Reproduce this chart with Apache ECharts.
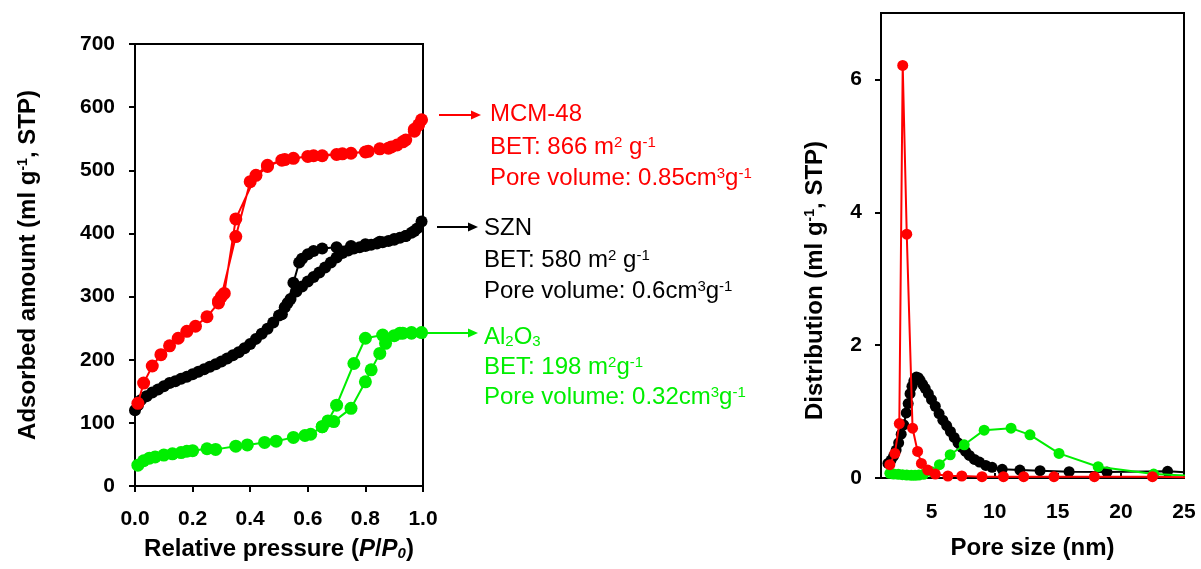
<!DOCTYPE html>
<html><head><meta charset="utf-8">
<script src="https://cdn.jsdelivr.net/npm/echarts@6/dist/echarts.min.js"></script>
<style>html,body{margin:0;padding:0;background:#fff}#c{width:1201px;height:569px}</style>
</head><body><div id="c"></div>
<script>
// ---------- DATA ----------
// N2 isotherms: [P/P0, adsorbed amount] (adsorption branch then desorption branch)
const mcmIsotherm = [[0.01,131],[0.03,163],[0.06,190],[0.09,208],[0.12,222],[0.15,234],[0.18,245],[0.21,253],[0.25,268],[0.29,290],[0.30,300],[0.35,395],[0.40,482],[0.46,506],[0.51,516],[0.55,519],[0.60,522],[0.65,523],[0.70,525],[0.75,527],[0.81,530],[0.85,534],[0.89,537],[0.91,540],[0.94,548],[0.97,562],[0.985,572],[0.995,580],
  [0.97,565],[0.93,545],[0.88,535],[0.80,529],[0.72,526],[0.62,523],[0.52,517],[0.46,508],[0.42,492],[0.35,423],[0.31,305],[0.29,293]];
const sznIsotherm = [[0.0,120],[0.01,128],[0.02,136],[0.04,142],[0.06,148],[0.08,153],[0.10,158],[0.12,163],[0.14,166],[0.16,170],[0.18,173],[0.20,177],[0.22,181],[0.24,185],[0.26,189],[0.28,193],[0.30,197],[0.32,202],[0.34,207],[0.36,212],[0.38,218],[0.40,225],[0.42,233],[0.44,241],[0.46,249],[0.48,259],[0.50,270],[0.52,283],[0.54,296],[0.56,308],[0.58,316],[0.60,324],[0.62,331],[0.64,338],[0.66,346],[0.68,354],[0.70,362],[0.72,369],[0.74,373],[0.76,376],[0.78,378],[0.80,380],[0.82,382],[0.84,384],[0.86,386],[0.88,388],[0.90,390],[0.92,393],[0.94,396],[0.96,401],[0.98,408],[0.995,419],
  [0.97,404],[0.94,396],[0.90,391],[0.85,387],[0.80,383],[0.75,380],[0.70,378],[0.65,376],[0.62,372],[0.60,367],[0.58,360],[0.57,354],[0.55,322],[0.53,290],[0.51,272]];
const al2o3Isotherm = [[0.01,33],[0.03,40],[0.05,44],[0.07,46],[0.10,49],[0.13,51],[0.16,53],[0.18,55],[0.20,56],[0.25,59],[0.28,58],[0.35,63],[0.39,65],[0.45,69],[0.49,71],[0.55,77],[0.59,80],[0.61,82],[0.65,94],[0.69,102],[0.75,123],[0.80,165],[0.82,184],[0.85,210],[0.87,226],[0.90,238],[0.93,242],[0.96,242],[0.995,243],
  [0.96,243],[0.92,242],[0.86,239],[0.80,234],[0.76,194],[0.70,128],[0.67,103],[0.65,94]];
// Pore size distributions: [pore size nm, distribution]
const sznPsd = [[1.55,0.22],[1.8,0.27],[2.0,0.33],[2.2,0.42],[2.4,0.53],[2.6,0.66],[2.8,0.8],[3.0,0.98],[3.15,1.12],[3.3,1.27],[3.45,1.38],[3.6,1.46],[3.8,1.52],[3.95,1.51],[4.1,1.47],[4.3,1.41],[4.5,1.35],[4.75,1.27],[5.0,1.18],[5.3,1.08],[5.6,0.97],[5.9,0.87],[6.2,0.79],[6.5,0.7],[6.8,0.61],[7.1,0.53],[7.4,0.46],[7.7,0.4],[8.0,0.34],[8.4,0.28],[8.8,0.24],[9.3,0.19],[9.8,0.16],[10.6,0.13],[12.0,0.12],[13.6,0.11],[15.9,0.095],[18.9,0.09],[23.7,0.1],[26,0.08]];
const al2o3Psd = [[1.7,0.07],[2.0,0.06],[2.37,0.055],[2.7,0.05],[3.04,0.045],[3.4,0.04],[3.7,0.04],[4.0,0.045],[4.37,0.055],[5.0,0.095],[5.63,0.2],[6.48,0.35],[7.59,0.5],[9.17,0.72],[11.3,0.75],[12.8,0.65],[15.1,0.37],[18.2,0.17],[22.6,0.06],[26,0.03]];
const mcmPsd = [[1.7,0.2],[2.1,0.37],[2.45,0.82],[2.72,6.21],[3.04,3.67],[3.5,0.75],[3.9,0.4],[4.2,0.22],[4.7,0.12],[5.3,0.06],[6.3,0.03],[7.4,0.03],[9.0,0.02],[10.7,0.02],[12.3,0.02],[14.7,0.02],[17.9,0.02],[22.5,0.02],[26,0.01]];
// tick values
const psdXTicks = [5,10,15,20,25];
const psdYTicks = [0,2,4,6];
// ---------- STYLE ----------
const FONT = 'Liberation Sans, Arial, sans-serif';
const RED = '#ff0000', BLACK = '#000000', GREEN = '#00ee00';
const axisLine = {show:true, lineStyle:{color:'#000', width:2}};
const tickLbl = (extra) => Object.assign({color:'#000', fontSize:21, fontWeight:'bold', fontFamily:FONT}, extra||{});
const nameStyle = (extra) => Object.assign({color:'#000', fontSize:24, fontWeight:'bold', fontFamily:FONT,
  rich:{
    sup:{fontSize:14, fontWeight:'bold', fontFamily:FONT, color:'#000', verticalAlign:'top', lineHeight:14},
    it:{fontSize:24, fontWeight:'bold', fontStyle:'italic', fontFamily:FONT, color:'#000'},
    itsub:{fontSize:15, fontWeight:'bold', fontStyle:'italic', fontFamily:FONT, color:'#000', verticalAlign:'bottom', lineHeight:15}
  }}, extra||{});

function lineSeries(name, data, color, xi, size, z){
  return {name, type:'line', xAxisIndex:xi, yAxisIndex:xi, data, symbol:'circle', symbolSize:size,
    showSymbol:true, clip:true, z:z, animation:false,
    lineStyle:{color, width:2}, itemStyle:{color, borderWidth:0}};
}

const chart = echarts.init(document.getElementById('c'), null, {renderer:'canvas'});
const option = {
  animation:false,
  backgroundColor:'#fff',
  grid:[
    {left:135, right:778, top:44, bottom:83, show:true, borderColor:'#000', borderWidth:2, backgroundColor:'transparent'},
    {left:881, right:17, top:13, bottom:91, show:true, borderColor:'#000', borderWidth:2, backgroundColor:'transparent'}
  ],
  xAxis:[
    {gridIndex:0, type:'value', min:0, max:1, interval:0.2, axisLine, splitLine:{show:false},
     axisTick:{show:true, inside:false, length:6, lineStyle:{color:'#000', width:2}},
     axisLabel:tickLbl({margin:23, formatter:v=>v.toFixed(1)}),
     name:'Relative pressure ({it|P}/{it|P}{itsub|0})', nameLocation:'middle', nameGap:51, nameTextStyle:nameStyle()},
    {gridIndex:1, type:'value', min:1, max:25, axisLine, splitLine:{show:false},
     axisTick:{show:true, inside:true, length:5, lineStyle:{color:'#000', width:2}, customValues:psdXTicks},
     axisLabel:tickLbl({margin:24, customValues:psdXTicks}),
     name:'Pore size (nm)', nameLocation:'middle', nameGap:58, nameTextStyle:nameStyle()}
  ],
  yAxis:[
    {gridIndex:0, type:'value', min:0, max:700, interval:100, axisLine, splitLine:{show:false},
     axisTick:{show:true, inside:false, length:6, lineStyle:{color:'#000', width:2}},
     axisLabel:tickLbl({margin:20}),
     name:'Adsorbed amount (ml g{sup|-1}, STP)', nameLocation:'middle', nameGap:95, nameTextStyle:nameStyle()},
    {gridIndex:1, type:'value', min:0, max:7, axisLine, splitLine:{show:false},
     axisTick:{show:true, inside:false, length:6, lineStyle:{color:'#000', width:2}, customValues:psdYTicks},
     axisLabel:tickLbl({margin:19, customValues:psdYTicks}),
     name:'Distribution (ml g{sup|-1}, STP)', nameLocation:'middle', nameGap:54, nameTextStyle:nameStyle({padding:[0,70,0,0]})}
  ],
  series:[
    lineSeries('SZN', sznIsotherm, BLACK, 0, 12, 2),
    lineSeries('Al2O3', al2o3Isotherm, GREEN, 0, 13, 3),
    lineSeries('MCM-48', mcmIsotherm, RED, 0, 13, 4),
    lineSeries('SZN psd', sznPsd, BLACK, 1, 11, 2),
    lineSeries('Al2O3 psd', al2o3Psd, GREEN, 1, 11, 3),
    lineSeries('MCM-48 psd', mcmPsd, RED, 1, 11, 4)
  ]
};
chart.setOption(option);

// ---------- annotations (arrows + text) ----------
const annotRich = (color) => ({
  sup:{fontSize:15, fontFamily:FONT, fill:color, verticalAlign:'top', lineHeight:15},
  sub:{fontSize:15, fontFamily:FONT, fill:color, verticalAlign:'bottom', lineHeight:15}
});
const blocks = [
  {color:RED, arrow:[439,481,115], tx:490, lines:[[114,'MCM-48'],[147,'BET: 866 m{sup|2} g{sup|-1}'],[178,'Pore volume: 0.85cm{sup|3}g{sup|-1}']]},
  {color:BLACK, arrow:[437,478,227], tx:484, lines:[[228,'SZN'],[260,'BET: 580 m{sup|2} g{sup|-1}'],[291,'Pore volume: 0.6cm{sup|3}g{sup|-1}']]},
  {color:GREEN, arrow:[423,478,333], tx:484, lines:[[337,'Al{sub|2}O{sub|3}'],[367,'BET: 198 m{sup|2}g{sup|-1}'],[397,'Pore volume: 0.32cm{sup|3}g{sup|-1}']]}
];
const graphics = [];
blocks.forEach(b=>{
  const [x0,x1,y] = b.arrow;
  graphics.push({type:'line', shape:{x1:x0, y1:y, x2:x1-8, y2:y}, style:{stroke:b.color, lineWidth:2}, z:10});
  graphics.push({type:'polygon', shape:{points:[[x1,y],[x1-10,y-4.5],[x1-10,y+4.5]]}, style:{fill:b.color}, z:10});
  b.lines.forEach(([ly,txt])=>{
    graphics.push({type:'text', x:b.tx, y:ly, z:10,
      style:{text:txt, fill:b.color, fontSize:24, fontFamily:FONT, verticalAlign:'middle', align:'left', rich:annotRich(b.color)}});
  });
});
chart.setOption({graphic:graphics});
</script>
</body></html>
